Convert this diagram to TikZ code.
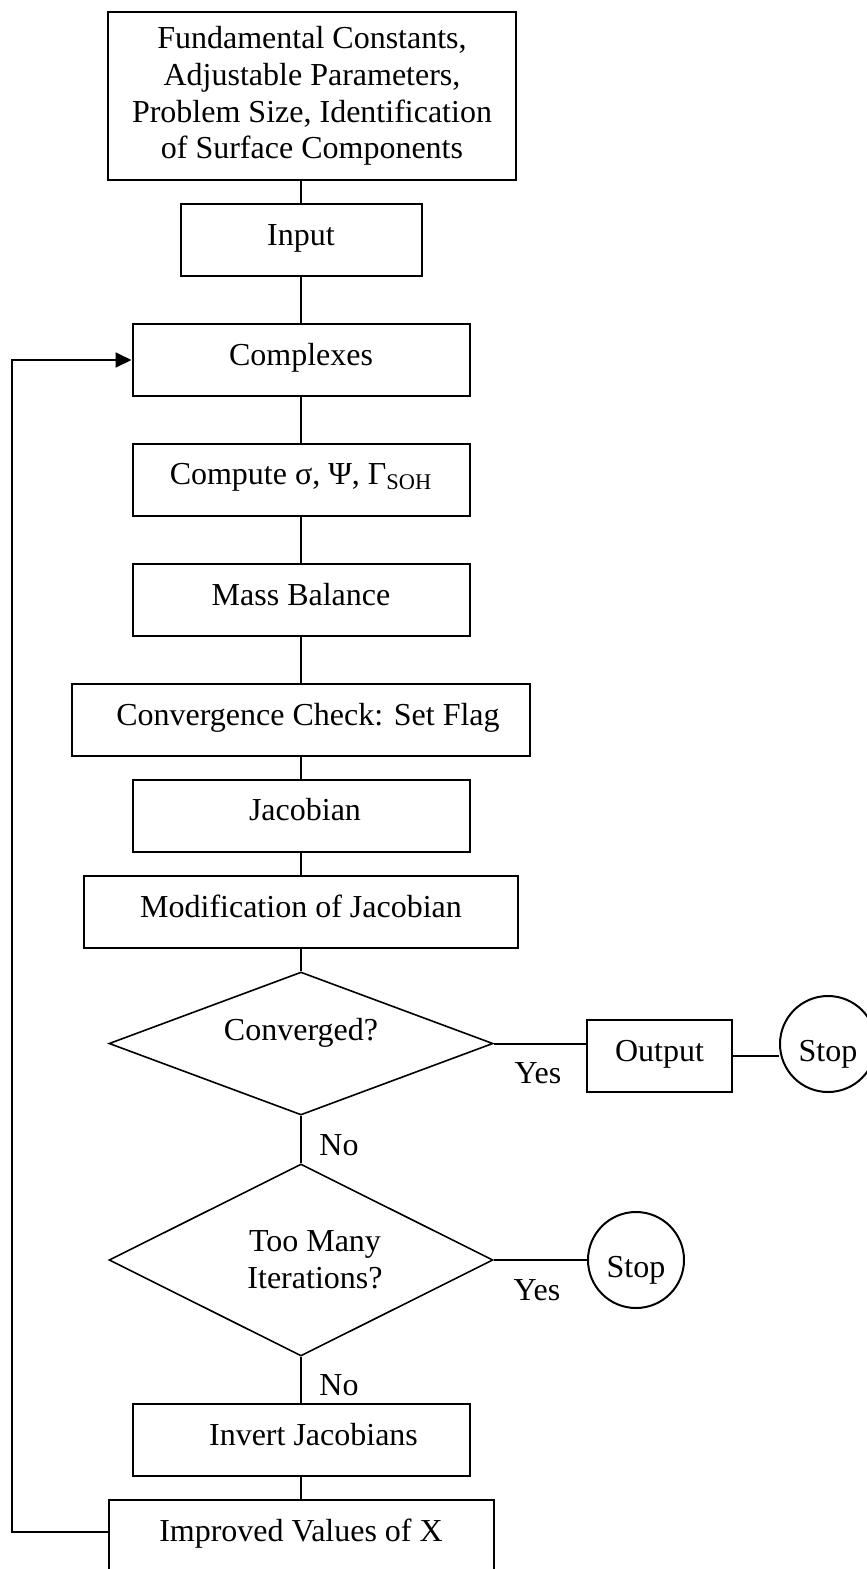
\documentclass[tikz,border=0pt]{standalone}
\usepackage{fontspec}
\setmainfont{Liberation Serif}
\usetikzlibrary{shapes.geometric,arrows.meta}

\begin{document}
\begin{tikzpicture}[x=0.5pt,y=-0.5pt,font=\fontsize{16}{18.35}\selectfont]
\tikzstyle{trait}=[line width=0.6pt]
\tikzstyle{lien}=[line width=1pt]
\tikzstyle{retour}=[-{Triangle[length=8pt,width=7.5pt]},line width=1pt]
\tikzset{boite/.style={draw,line width=1pt,inner sep=0pt,minimum height=36pt,
  text height=11pt,text depth=6pt,minimum width=#1},
boite/.default={168.5pt},
test/.style={draw,diamond,aspect=2,line width=0.8pt,inner sep=0pt,
  minimum width=192pt,minimum height=#1},
fin/.style={draw,circle,line width=1pt,inner sep=0pt,minimum size=48pt,
  text height=17pt,text depth=0pt}}

\useasboundingbox (0,0) rectangle (867,1569);

% boites principales
\node[draw,line width=1pt,minimum width=204pt,minimum height=84pt,align=center] (donnees) at (312,96)
  {Fundamental Constants,\\Adjustable Parameters,\\Problem Size, Identification\\of Surface Components};
\node[boite=120.5pt] (entree) at (301,240) {Input};
\node[boite] (complexes) at (301,360) {Complexes};
\node[boite] (calcul) at (301,479.5) {Compute σ, Ψ, Γ\textsubscript{SOH}\hspace{19pt}};
\node[boite] (masse) at (301,600) {Mass Balance\hspace{9.5pt}};
\node[boite=229pt] (verif) at (301,720) {\hspace{7pt}Convergence Check: Set Flag};
\node[boite] (jacobien) at (301,815.5) {\hspace{4pt}Jacobian};
\node[boite=217pt] (modif) at (301,912) {Modification of Jacobian\hspace{3pt}};

% tests
\node[test=71.5pt,text height=11pt,text depth=14pt] (converge) at (301,1043.5) {Converged?\hspace{9pt}};
\node[test=96pt,align=center] (iterations) at (301,1260) {\hspace{14pt}Too Many\\\hspace{14pt}Iterations?};

\node[boite=72.5pt] (sortie) at (659.5,1056) {Output\hspace{7.5pt}};
\node[fin] (stopA) at (828,1044) {Stop};
\node[fin] (stopB) at (636,1260) {Stop};

\node[boite] (inverse) at (301,1440) {\hspace{12.5pt}Invert Jacobians};
\node[boite=192.5pt] (nouveaux) at (301,1536) {Improved Values of X\hspace{14pt}};

% reponses
\node[anchor=base] (ouiA) at (538,1083) {Yes};
\node[anchor=base] (nonA) at (339,1155) {No};
\node[anchor=base] (ouiB) at (537,1300) {Yes};
\node[anchor=base] (nonB) at (339,1395) {No};

% liaisons
\draw[trait] (entree.north |- donnees.south) -- (entree.north);
\draw[trait] (entree) -- (complexes);
\draw[trait] (complexes) -- (calcul);
\draw[trait] (calcul) -- (masse);
\draw[trait] (masse) -- (verif);
\draw[trait] (verif) -- (jacobien);
\draw[trait] (jacobien) -- (modif);
\draw[trait] (modif) -- (converge);
\draw[trait] (converge) -- (iterations);
\draw[trait] (iterations) -- (inverse);
\draw[trait] (inverse) -- (nouveaux);

\draw[lien] (converge.east) -- (converge.east -| sortie.west);
\draw[lien] (sortie.east) -- (sortie.east -| stopA.west);
\draw[lien] (iterations) -- (stopB);

% boucle
\coordinate (coin) at (12,1532);
\draw[retour] ([yshift=2pt]nouveaux.west) -- (coin) |- (complexes.west);

\end{tikzpicture}
\end{document}
